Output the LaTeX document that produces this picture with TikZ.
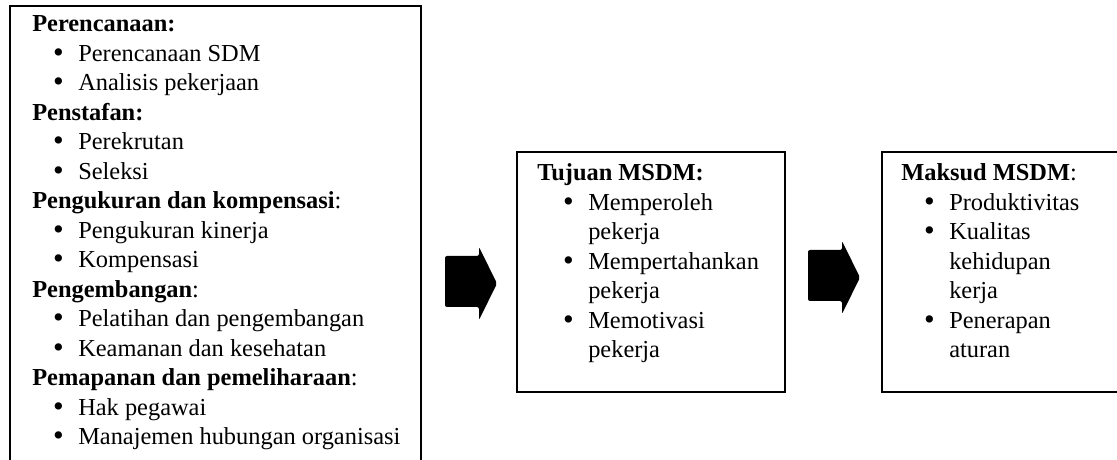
\documentclass[tikz,border=0pt]{standalone}
\usepackage{fontspec}
\usepackage{graphicx}
\setmainfont{Liberation Serif}
\newcommand{\bul}{\llap{\raisebox{-0.7pt}{\scalebox{1.25}{\textbullet}}\hspace{10.8pt}}}
\begin{document}
\begin{tikzpicture}[x=0.75pt,y=0.75pt,
  box/.style={draw=black,line width=1.6pt,rectangle,inner sep=0pt},
  txt/.style={anchor=base west,inner sep=0pt,font=\fontsize{18.3}{22}\selectfont},
  hd/.style={txt},
  blockarrow/.style={fill=black,rounded corners=1.5pt}]
\useasboundingbox (0,0) rectangle (1117,460);
\clip (0,0) rectangle (1117,460);
% boxes
\node[box,minimum width=308.25pt,minimum height=355.5pt] (L) at (215.5,217) {};
\node[box,minimum width=201pt,minimum height=180pt] (M) at (651,188) {};
\node[box,minimum width=186pt,minimum height=180pt] (R) at (1006,188) {};
% left box text
\node[hd] (l0) at (32,428) {\textbf{Perencanaan:}};
\node[txt] (l1) at (78,398.5) {\bul Perencanaan SDM};
\node[txt] (l2) at (78,369) {\bul Analisis pekerjaan};
\node[hd] (l3) at (32,339.5) {\textbf{Penstafan:}};
\node[txt] (l4) at (78,310) {\bul Perekrutan};
\node[txt] (l5) at (78,280.5) {\bul Seleksi};
\node[hd] (l6) at (32,251) {\textbf{Pengukuran dan kompensasi}:};
\node[txt] (l7) at (78,221.5) {\bul Pengukuran kinerja};
\node[txt] (l8) at (78,192) {\bul Kompensasi};
\node[hd] (l9) at (32,162.5) {\textbf{Pengembangan}:};
\node[txt] (l10) at (78,133) {\bul Pelatihan dan pengembangan};
\node[txt] (l11) at (78,103.5) {\bul Keamanan dan kesehatan};
\node[hd] (l12) at (32,74) {\textbf{Pemapanan dan pemeliharaan}:};
\node[txt] (l13) at (78,44.5) {\bul Hak pegawai};
\node[txt] (l14) at (78,15) {\bul Manajemen hubungan organisasi};
% middle box text
\node[hd] (m0) at (537,279) {\textbf{Tujuan MSDM:}};
\node[txt] (m1) at (588,249.5) {\bul Memperoleh};
\node[txt] (m2) at (588,220) {pekerja};
\node[txt] (m3) at (588,190.5) {\bul Mempertahankan};
\node[txt] (m4) at (588,161) {pekerja};
\node[txt] (m5) at (588,131.5) {\bul Memotivasi};
\node[txt] (m6) at (588,102) {pekerja};
% right box text
\node[hd] (r0) at (901,279) {\textbf{Maksud MSDM}:};
\node[txt] (r1) at (949,249.5) {\bul Produktivitas};
\node[txt] (r2) at (949,220) {\bul Kualitas};
\node[txt] (r3) at (949,190.5) {kehidupan};
\node[txt] (r4) at (949,161) {kerja};
\node[txt] (r5) at (949,131.5) {\bul Penerapan};
\node[txt] (r6) at (949,102) {aturan};
% block arrows
\fill[blockarrow] (445,204) -- (479,204) -- (479,213) -- (497,176.5) -- (479,140) -- (479,153) -- (445,153) -- cycle;
\fill[blockarrow] (808,210) -- (842,210) -- (842,219) -- (860,182.5) -- (842,146) -- (842,159) -- (808,159) -- cycle;
\end{tikzpicture}
\end{document}
